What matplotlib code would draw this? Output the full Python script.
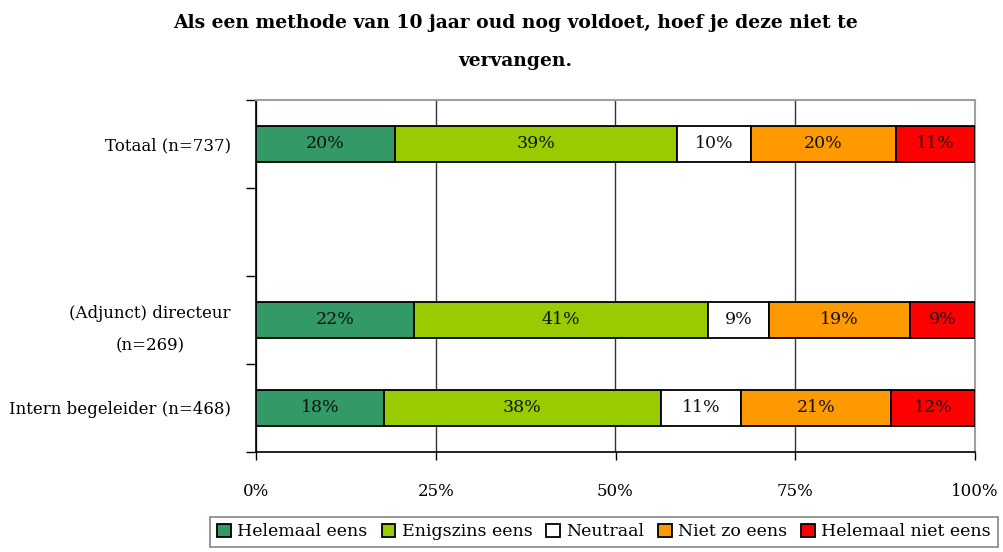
import matplotlib
matplotlib.use("Agg")
import matplotlib.pyplot as plt
import numpy as np

categories = ["Totaal (n=737)", "", "(Adjunct) directeur\n(n=269)", "Intern begeleider (n=468)"]
series_names = ["Helemaal eens", "Enigszins eens", "Neutraal", "Niet zo eens", "Helemaal niet eens"]
helemaal_eens = [19.3, None, 22.0, 17.8]
enigszins_eens = [39.3, None, 40.9, 38.5]
neutraal = [10.2, None, 8.5, 11.2]
niet_zo_eens = [20.2, None, 19.5, 20.8]
helemaal_niet_eens = [11.0, None, 9.1, 11.7]
labels_helemaal_eens = ["20%", "", "22%", "18%"]
labels_enigszins_eens = ["39%", "", "41%", "38%"]
labels_neutraal = ["10%", "", "9%", "11%"]
labels_niet_zo_eens = ["20%", "", "19%", "21%"]
labels_helemaal_niet_eens = ["11%", "", "9%", "12%"]
x_ticks = [0, 25, 50, 75, 100]
x_ticklabels = ["0%", "25%", "50%", "75%", "100%"]
title = "Als een methode van 10 jaar oud nog voldoet, hoef je deze niet te\nvervangen."

colors = ["#339966", "#99cc00", "#ffffff", "#ff9900", "#ff0000"]
series = [helemaal_eens, enigszins_eens, neutraal, niet_zo_eens, helemaal_niet_eens]
labels = [labels_helemaal_eens, labels_enigszins_eens, labels_neutraal,
          labels_niet_zo_eens, labels_helemaal_niet_eens]

FONT = "DejaVu Serif"
plt.rcParams["font.family"] = [FONT]

fig = plt.figure(figsize=(10.04, 5.52), dpi=100)
ax = fig.add_axes([256/1004, 100/552, (975-256)/1004, (452-100)/552])

n = len(categories)
ypos = np.arange(n)
left = np.zeros(n)
handles = []
for vals, lab, col, name in zip(series, labels, colors, series_names):
    v = np.array([np.nan if x is None else x for x in vals], dtype=float)
    mask = ~np.isnan(v)
    bars = ax.barh(ypos[mask], v[mask], left=left[mask], height=0.41,
                   color=col, edgecolor="black", linewidth=1.3, zorder=3, label=name)
    for yi, vi, li, lb in zip(ypos[mask], v[mask], left[mask], np.array(lab)[mask]):
        ax.text(li + vi/2, yi, lb, ha="center", va="center", fontsize=12.5, zorder=4,
                color="#111111")
    left[mask] += v[mask]
    handles.append(bars)

ax.set_xlim(0, 100)
ax.set_ylim(n - 0.5, -0.5)
ax.set_xticks(x_ticks)
ax.set_xticklabels(x_ticklabels, fontsize=12)
ax.tick_params(axis="x", direction="out", length=6, width=1, pad=16, colors="black")
ax.xaxis.grid(True, color="#333333", linewidth=1, zorder=0)

ax.set_yticks(np.arange(n + 1) - 0.5)
ax.set_yticklabels([])
ax.tick_params(axis="y", which="major", direction="out", length=7, width=1)
ax.set_yticks(ypos, minor=True)
ax.set_yticklabels(categories, minor=True, fontsize=12, multialignment="center",
                   linespacing=2.2)
ax.tick_params(axis="y", which="minor", length=0, pad=18)

for s in ["left", "bottom"]:
    ax.spines[s].set_color("black")
    ax.spines[s].set_linewidth(1.2)
for s in ["top", "right"]:
    ax.spines[s].set_color("#a0a0a0")
    ax.spines[s].set_linewidth(1.5)

fig.text(0.513, 1 - 42/552, title, ha="center", va="center", fontsize=13.5,
         fontweight="bold", linespacing=2.4)

leg = fig.legend(handles=handles, loc="center", bbox_to_anchor=(604/1004, 1 - 532/552),
                 ncol=5, frameon=True, fontsize=12.5, handlelength=0.8, handleheight=0.8,
                 handletextpad=0.35, columnspacing=0.8, borderpad=0.4, fancybox=False)
leg.get_frame().set_edgecolor("#666666")
leg.get_frame().set_linewidth(1.2)

fig.savefig("out.png", dpi=100, facecolor="white")
